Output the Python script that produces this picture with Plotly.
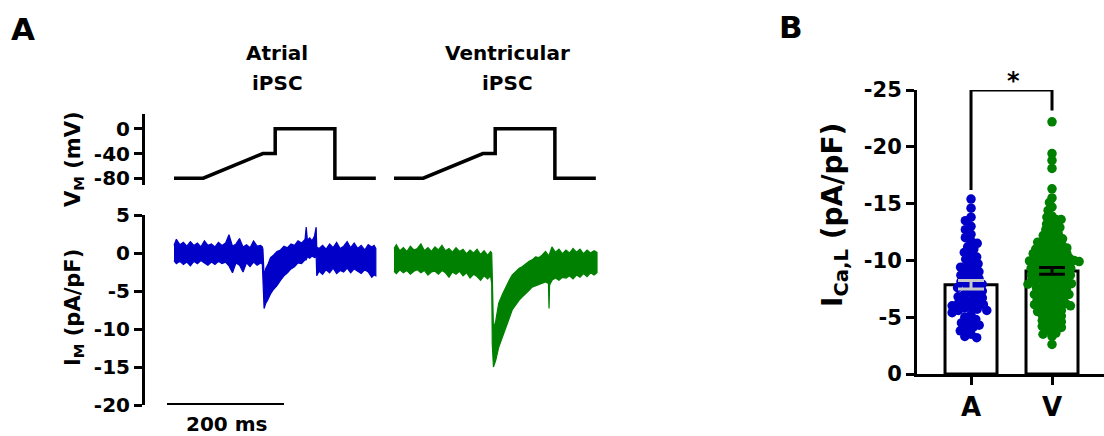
import numpy as np
import plotly.graph_objects as go

W, H = 1104, 436

# ---------------- data ----------------
# Voltage-clamp protocol (same for both cells): time (ms) / membrane potential (mV)
vm_time = [0, 50, 152, 173, 173, 275, 275, 345]
vm_volt = [-80, -80, -40, -40, 0, 0, -80, -80]

# Atrial iPSC current trace (pA/pF): upper / lower envelope of the noisy recording
atr_t = [0, 4, 10, 16, 22, 28, 34, 40, 46, 52,
         58, 64, 70, 76, 82, 88, 94, 100, 106, 112,
         118, 124, 130, 136, 142, 148, 151, 152, 154, 157,
         160, 165, 170, 176, 182, 188, 194, 200, 206, 212,
         218, 224, 226, 228, 232, 236, 240, 243, 244, 248,
         254, 260, 266, 272, 278, 284, 290, 296, 302, 308,
         314, 320, 326, 332, 338, 342, 345]
atr_hi = [1.0, 1.8, 1.1, 1.4, 0.9, 1.5, 1.0, 1.3, 0.8, 1.6,
          1.0, 1.2, 0.8, 1.4, 1.0, 1.3, 2.4, 0.9, 1.2, 1.9,
          0.8, 1.1, 0.7, 1.6, 0.9, 1.0, 0.8, 0.5, -3.0, -2.0,
          -1.6, -0.6, -0.3, 0.2, 0.4, 0.9, 0.7, 1.2, 1.0, 1.6,
          1.3, 1.8, 3.4, 1.7, 2.0, 1.6, 2.2, 3.4, 0.8, 0.6,
          1.0, 0.5, 1.2, 0.7, 1.4, 0.6, 0.9, 1.5, 0.7, 1.3,
          0.6, 1.0, 0.4, 1.1, 0.8, 1.0, 0.6]
atr_lo = [-1.0, -1.4, -1.1, -1.5, -1.2, -1.7, -1.1, -1.4, -1.0, -1.3,
          -1.6, -1.2, -1.5, -1.1, -1.4, -1.2, -1.7, -2.6, -1.3, -1.6,
          -2.5, -1.3, -1.8, -1.2, -1.6, -1.3, -1.5, -4.0, -7.3, -6.6,
          -6.2, -5.4, -4.8, -4.3, -3.6, -3.0, -2.6, -2.1, -1.8, -1.3,
          -1.4, -0.9, -0.9, -0.5, -0.7, -0.4, -0.6, -0.5, -3.0, -2.4,
          -2.8, -2.2, -2.6, -2.0, -2.7, -2.3, -2.5, -2.0, -2.6, -2.1,
          -2.4, -2.7, -2.2, -2.5, -3.2, -2.9, -3.0]

# Ventricular iPSC current trace (pA/pF)
vent_t = [0, 4, 10, 16, 22, 28, 34, 40, 46, 52,
          58, 64, 70, 76, 82, 88, 94, 100, 106, 112,
          118, 124, 130, 136, 142, 148, 154, 160, 165, 167,
          168, 170, 174, 179, 185, 191, 197, 202, 208, 214,
          219, 225, 231, 236, 242, 248, 253, 259, 264, 265,
          266, 270, 276, 282, 288, 294, 300, 306, 312, 318,
          324, 330, 336, 342, 347]
vent_hi = [0.6, 1.1, 0.3, 0.7, 0.2, 0.9, 0.4, 0.6, 1.2, 0.3,
           0.7, 0.2, 0.8, 0.4, 1.0, 0.3, 0.6, 0.1, 0.7, 0.2,
           0.5, -0.1, 0.4, 0.0, 0.5, -0.2, 0.3, -0.3, 0.2, 0.0,
           -3.0, -10.0, -8.9, -6.6, -5.5, -4.5, -3.6, -2.9, -2.4, -2.0,
           -1.8, -1.4, -1.1, -0.9, -0.5, -0.6, -0.3, 0.2, -0.2, -0.4,
           -0.1, 0.8, 0.1, 0.5, -0.1, 0.4, 0.0, 0.6, 0.1, 0.5,
           -0.1, 0.4, 0.0, 0.3, 0.1]
vent_lo = [-2.4, -2.7, -2.2, -2.6, -2.3, -2.8, -2.4, -2.2, -2.6, -2.3,
           -2.9, -2.5, -2.4, -2.8, -2.3, -2.6, -3.2, -2.5, -2.8, -2.4,
           -3.0, -2.6, -3.3, -2.8, -3.1, -3.6, -3.0, -3.4, -3.0, -4.0,
           -12.0, -15.0, -14.1, -12.4, -11.0, -9.8, -8.6, -7.5, -6.8, -6.2,
           -5.8, -5.3, -4.9, -4.5, -4.3, -4.1, -4.0, -3.8, -4.0, -7.3,
           -4.2, -3.6, -3.3, -3.6, -3.2, -3.3, -3.0, -3.4, -2.9, -3.2,
           -2.7, -3.1, -2.6, -2.9, -2.6]

scale_bar_ms = 200

# Panel B: I_Ca,L density (pA/pF) per cell
groups = ["A", "V"]
atr_ical = [-15.4, -14.6,
            -13.8, -13.5, -13.0, -12.7, -12.3,
            -12.0, -11.7, -11.5, -11.2, -11.0, -10.7, -10.5, -10.3, -10.1,
            -9.9, -9.7, -9.5, -9.4, -9.2, -9.0, -8.9, -8.7, -8.6, -8.4, -8.3, -8.1, -8.0, -7.9,
            -7.7, -7.6, -7.5, -7.3, -7.2, -7.0, -6.9, -6.8, -6.7, -6.5, -6.4, -6.3, -6.2,
            -6.1, -6.0, -5.9, -5.8, -5.7, -5.6, -5.6,
            -5.4, -5.2, -5.0, -4.8, -4.6, -4.5, -4.3, -4.1, -4.0,
            -3.8, -3.5, -3.3, -3.2]
vent_ical = [-22.2,
             -19.4, -18.8, -18.1,
             -16.3, -15.5, -15.1, -14.7, -14.4,
             -13.9, -13.8, -13.6, -13.6, -13.4, -13.2, -13.1, -12.9, -12.9, -12.7,
             -12.5, -12.4, -12.3, -12.2, -12.0,
             -11.9, -11.9, -11.8, -11.6, -11.6, -11.5, -11.4, -11.3, -11.3, -11.2,
             -11.1, -11.0, -11.0, -10.9, -10.8, -10.8, -10.7, -10.6, -10.6, -10.5,
             -10.4, -10.4, -10.3, -10.2, -10.2, -10.1, -10.1, -10.0, -10.0, -9.95,
             -9.9, -9.9, -9.8, -9.7, -9.7, -9.6, -9.6, -9.5, -9.4, -9.4, -9.3, -9.3,
             -9.2, -9.1, -9.1, -9.0, -9.0, -8.9, -8.8, -8.8, -8.7, -8.7, -8.6, -8.5,
             -8.5, -8.4, -8.3, -8.3, -8.2, -8.2, -8.1, -8.0, -8.0, -7.95,
             -7.9, -7.8, -7.8, -7.7, -7.6, -7.6, -7.5, -7.4, -7.4, -7.3, -7.2, -7.2,
             -7.1, -7.0, -7.0, -6.9, -6.8, -6.8, -6.7, -6.6, -6.5, -6.5, -6.4, -6.3,
             -6.3, -6.2, -6.1, -6.1, -6.0, -6.0,
             -5.9, -5.8, -5.7, -5.6, -5.5, -5.5, -5.4, -5.3, -5.2, -5.1, -5.0, -4.9,
             -4.8, -4.7, -4.6, -4.5, -4.4, -4.3, -4.2, -4.1,
             -3.9, -3.8, -3.6, -3.5, -3.3,
             -2.6]
bar_mean = [-7.85, -9.07]
bar_sem = [0.37, 0.30]
sig_top = -25.0
sig_leg_ends = [-16.2, -23.2]
sig_label = "*"

vm_ticks = [0, -40, -80]
im_ticks = [5, 0, -5, -10, -15, -20]
ical_ticks = [0, -5, -10, -15, -20, -25]

# ---------------- styling / layout ----------------
BLUE = "rgb(0,0,200)"
GREEN = "rgb(0,128,0)"
FONT = "DejaVu Sans"
MS_PER_PX = 1 / 0.585
A_X0, A_X1 = 145, 600
ATR_OFF = (174 - 145) * MS_PER_PX
VEN_OFF = (394 - 145) * MS_PER_PX
BAR_OFF = (167 - 145) * MS_PER_PX


def fx(px):
    return px / W


def fy(py):
    return 1 - py / H


fig = go.Figure()

# voltage protocols
for off in (ATR_OFF, VEN_OFF):
    fig.add_trace(go.Scatter(x=[off + t for t in vm_time], y=vm_volt, mode="lines",
                             line=dict(color="black", width=3.5), xaxis="x", yaxis="y",
                             cliponaxis=False, hoverinfo="skip"))


def band(t, hi, lo, off, color):
    xs = [off + v for v in t] + [off + v for v in t[::-1]]
    ys = list(hi) + list(lo[::-1])
    return go.Scatter(x=xs, y=ys, mode="lines", fill="toself", fillcolor=color,
                      line=dict(color=color, width=1.2), xaxis="x2", yaxis="y2",
                      cliponaxis=False, hoverinfo="skip")


fig.add_trace(band(atr_t, atr_hi, atr_lo, ATR_OFF, BLUE))
fig.add_trace(band(vent_t, vent_hi, vent_lo, VEN_OFF, GREEN))

# scale bar
fig.add_trace(go.Scatter(x=[BAR_OFF, BAR_OFF + scale_bar_ms], y=[-20, -20], mode="lines",
                         line=dict(color="black", width=4), xaxis="x2", yaxis="y2",
                         cliponaxis=False, hoverinfo="skip"))

# ---- panel B ----
PX_PER_Y = 284 / 25.0
PX_PER_X = 81.0


def beeswarm(vals, sep):
    order = np.argsort(vals)
    placed = []
    xs = np.zeros(len(vals))
    for i in order:
        y = vals[i] * PX_PER_Y
        iv = []
        for xp, yp in placed:
            dy = abs(y - yp)
            if dy < sep:
                dx = (sep ** 2 - dy ** 2) ** 0.5
                iv.append((xp - dx, xp + dx))
        cands = [0.0] + [a for a, b in iv] + [b for a, b in iv]
        cands.sort(key=abs)
        xsel = 0.0
        for c in cands:
            if all(not (a + 1e-6 < c < b - 1e-6) for a, b in iv):
                xsel = c
                break
        placed.append((xsel, y))
        xs[i] = xsel / PX_PER_X
    return xs


fig.add_trace(go.Bar(x=[0, 1], y=bar_mean, width=52 / 81,
                     marker=dict(color="white", line=dict(color="black", width=3)),
                     xaxis="x3", yaxis="y3", hoverinfo="skip"))

for gi, (vals, col, sep) in enumerate([(atr_ical, BLUE, 6.6), (vent_ical, GREEN, 5.2)]):
    offs = beeswarm(vals, sep)
    fig.add_trace(go.Scatter(x=gi + offs, y=vals, mode="markers",
                             marker=dict(size=9.5, color=col, line=dict(width=0)),
                             xaxis="x3", yaxis="y3", cliponaxis=False, hoverinfo="skip"))

for gi, col in enumerate(["rgb(200,200,200)", "black"]):
    fig.add_trace(go.Scatter(x=[gi], y=[bar_mean[gi]], mode="markers",
                             marker=dict(size=1, color="rgba(0,0,0,0)"),
                             error_y=dict(type="data", array=[bar_sem[gi]], color=col,
                                          thickness=3, width=13),
                             xaxis="x3", yaxis="y3", hoverinfo="skip"))

fig.add_trace(go.Scatter(x=[0, 0, 1, 1], y=[sig_leg_ends[0], sig_top, sig_top, sig_leg_ends[1]],
                         mode="lines", line=dict(color="black", width=3),
                         xaxis="x3", yaxis="y3", cliponaxis=False, hoverinfo="skip"))

tick_font = dict(family=FONT, size=20, color="black", weight="bold")
axis_common = dict(showline=True, linewidth=3, linecolor="black", ticks="outside",
                   ticklen=8, tickwidth=3, tickcolor="black", showgrid=False,
                   zeroline=False, tickfont=tick_font, fixedrange=True, automargin=False)

a_range = [0, (A_X1 - A_X0) * MS_PER_PX]
fig.update_layout(
    width=W, height=H, autosize=False,
    margin=dict(l=0, r=0, t=0, b=0, pad=0, autoexpand=False),
    paper_bgcolor="white", plot_bgcolor="rgba(0,0,0,0)", showlegend=False,
    xaxis=dict(domain=[fx(A_X0), fx(A_X1)], range=a_range, visible=False, anchor="y"),
    yaxis=dict(domain=[fy(185), fy(114)], range=[-91, 24], tickvals=vm_ticks,
               ticktext=[str(v) for v in vm_ticks], anchor="x", **axis_common),
    xaxis2=dict(domain=[fx(A_X0), fx(A_X1)], range=a_range, visible=False, anchor="y2"),
    yaxis2=dict(domain=[fy(405), fy(215)], range=[-20, 5], tickvals=im_ticks,
                ticktext=[str(v) for v in im_ticks], anchor="x2", **axis_common),
    xaxis3=dict(domain=[fx(917), 1.0], range=[-0.667, 1.642], tickvals=[0, 1], ticktext=groups,
                anchor="y3", **{**axis_common, "tickfont": dict(family=FONT, size=26, color="black", weight="bold")}),
    yaxis3=dict(domain=[fy(374), fy(90)], range=[0, -25], tickvals=ical_ticks,
                ticktext=[str(v) for v in ical_ticks], anchor="x3",
                **{**axis_common, "tickfont": dict(family=FONT, size=21, color="black", weight="bold")}),
)


def ann(text, px, py, size, angle=0):
    fig.add_annotation(text=text, x=fx(px), y=fy(py), xref="paper", yref="paper",
                       showarrow=False, textangle=angle, xanchor="center", yanchor="middle",
                       font=dict(family=FONT, size=size, color="black", weight="bold"))


ann("A", 23, 29, 31)
ann("B", 791, 27, 31)
ann("Atrial", 277, 53, 20)
ann("iPSC", 277, 83, 20)
ann("Ventricular", 507, 53, 20)
ann("iPSC", 507, 83, 20)
ann("V<sub>M</sub> (mV)", 74, 159, 21, -90)
ann("I<sub>M</sub> (pA/pF)", 74, 308, 21, -90)
ann(f"{scale_bar_ms} ms", 226, 424, 20)
ann("I<sub>Ca,L</sub> (pA/pF)", 834, 215, 28, -90)
ann(sig_label, 1013, 81, 24)

fig.write_html("out.html", config={"responsive": False, "displayModeBar": False},
               post_script="document.body.style.margin='0';document.body.style.overflow='hidden';")
